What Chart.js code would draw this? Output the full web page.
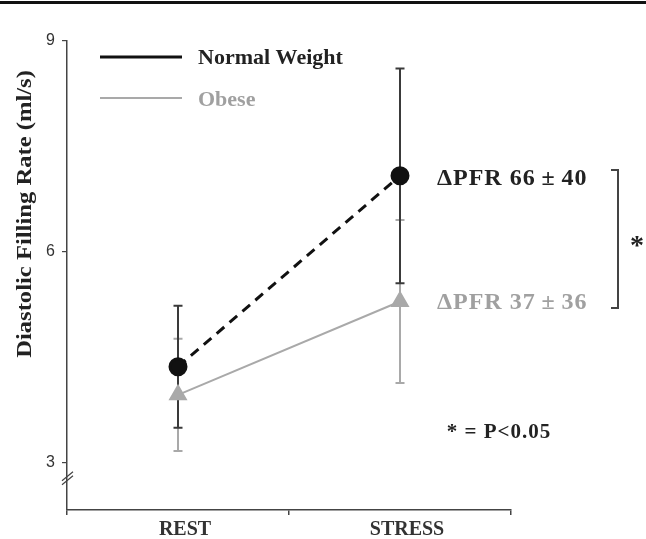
<html lang="en">
<head>
    <meta charset="UTF-8">
    <title>Diastolic Filling Rate</title>
    <style>
        html, body { margin: 0; padding: 0; background: #fff; }
        .chartBox { width: 646px; height: 539px; }
    </style>
</head>
<body>
    <div class="chartBox">
        <canvas id="myChart"></canvas>
    </div>

    <script src="https://cdn.jsdelivr.net/npm/chart.js@4"></script>
    <script>
        // values
        let categories = ['REST', 'STRESS'];
        let normalMean = [4.36, 7.08];
        let normalErr = [0.87, 1.53];
        let obeseMean = [3.96, 5.29];
        let obeseErr = [0.80, 1.16];
        let yTicks = [3, 6, 9];
        let seriesNames = ['Normal Weight', 'Obese'];
        let deltaText = ['\u0394PFR 66\u2009\u00B1\u200940', '\u0394PFR 37\u2009\u00B1\u200936'];

        const serif = '"Liberation Serif", "DejaVu Serif", serif';
        const sans = '"Liberation Sans", Arial, sans-serif';

        // error bars drawn through the scales
        const errorBars = {
            id: 'errorBars',
            beforeDatasetsDraw(chart) {
                const ctx = chart.ctx;
                const x = chart.scales.x, y = chart.scales.y;
                const sets = [
                    {mean: obeseMean, err: obeseErr, color: '#a9a9a9'},
                    {mean: normalMean, err: normalErr, color: '#3a3a3a'}
                ];
                ctx.save();
                sets.forEach(s => {
                    ctx.strokeStyle = s.color;
                    ctx.lineWidth = 2;
                    s.mean.forEach((m, i) => {
                        const px = x.getPixelForValue(i);
                        const top = y.getPixelForValue(m + s.err[i]);
                        const bot = y.getPixelForValue(m - s.err[i]);
                        ctx.beginPath();
                        ctx.moveTo(px, top); ctx.lineTo(px, bot);
                        ctx.moveTo(px - 4.5, top); ctx.lineTo(px + 4.5, top);
                        ctx.moveTo(px - 4.5, bot); ctx.lineTo(px + 4.5, bot);
                        ctx.stroke();
                    });
                });
                ctx.restore();
            }
        };

        // legend, annotations, axis break, y title
        const extras = {
            id: 'extras',
            afterDraw(chart) {
                const ctx = chart.ctx;
                const y = chart.scales.y;
                const x = chart.scales.x;
                ctx.save();
                // top rule
                ctx.fillStyle = '#111';
                ctx.fillRect(0, 1, 646, 3);

                // legend
                ctx.lineWidth = 3;
                ctx.strokeStyle = '#111';
                ctx.beginPath(); ctx.moveTo(100, 57); ctx.lineTo(182, 57); ctx.stroke();
                ctx.lineWidth = 2;
                ctx.strokeStyle = '#a9a9a9';
                ctx.beginPath(); ctx.moveTo(100, 98); ctx.lineTo(182, 98); ctx.stroke();
                ctx.textBaseline = 'middle';
                ctx.textAlign = 'left';
                ctx.font = 'bold 22px ' + serif;
                ctx.fillStyle = '#222';
                ctx.fillText(seriesNames[0], 198, 58);
                ctx.fillStyle = '#a0a0a0';
                ctx.fillText(seriesNames[1], 198, 100);

                // delta annotations
                ctx.font = 'bold 24px ' + serif;
                ctx.letterSpacing = '1px';
                ctx.fillStyle = '#222';
                ctx.fillText(deltaText[0], 437, 179);
                ctx.fillStyle = '#a0a0a0';
                ctx.fillText(deltaText[1], 437, 303);

                // bracket
                ctx.strokeStyle = '#444';
                ctx.lineWidth = 2;
                ctx.beginPath();
                ctx.moveTo(611, 170); ctx.lineTo(618, 170); ctx.lineTo(618, 308); ctx.lineTo(611, 308);
                ctx.stroke();
                ctx.fillStyle = '#222';
                ctx.letterSpacing = '0px';
                ctx.font = 'bold 28px ' + serif;
                ctx.textAlign = 'center';
                ctx.fillText('*', 637, 247);

                ctx.font = 'bold 21px ' + serif;
                ctx.letterSpacing = '1px';
                ctx.fillText('* = P<0.05', 499, 433);

                // axis break
                const by = y.getPixelForValue(2.75);
                const bx = x.left;
                ctx.strokeStyle = '#444';
                ctx.lineWidth = 1.2;
                ctx.beginPath();
                ctx.moveTo(bx - 5, by + 1); ctx.lineTo(bx + 6, by - 8);
                ctx.moveTo(bx - 5, by + 5); ctx.lineTo(bx + 6, by - 4);
                ctx.stroke();

                // y title
                ctx.translate(26, 214);
                ctx.rotate(-Math.PI / 2);
                ctx.scale(1.23, 1);
                ctx.font = 'bold 20px ' + serif;
                ctx.letterSpacing = '0px';
                ctx.fillStyle = '#222';
                ctx.textAlign = 'center';
                ctx.fillText('Diastolic Filling Rate (ml/s)', 0, 0);
                ctx.restore();
            }
        };

        function printChart() {
            const ctx = document.getElementById('myChart').getContext('2d');
            new Chart(ctx, {
                type: 'line',
                data: {
                    labels: categories,
                    datasets: [
                        {
                            label: seriesNames[0],
                            data: normalMean,
                            borderColor: '#111',
                            borderWidth: 3,
                            borderDash: [10, 7],
                            pointStyle: 'circle',
                            pointRadius: 8,
                            pointBackgroundColor: '#111',
                            pointBorderColor: '#111',
                            order: 1
                        },
                        {
                            label: seriesNames[1],
                            data: obeseMean,
                            borderColor: '#a9a9a9',
                            borderWidth: 2,
                            pointStyle: 'triangle',
                            pointRadius: 9,
                            pointBackgroundColor: '#a9a9a9',
                            pointBorderColor: '#a9a9a9',
                            order: 2
                        }
                    ]
                },
                options: {
                    responsive: true,
                    maintainAspectRatio: false,
                    animation: false,
                    layout: {padding: {left: 0, top: 41, right: 135, bottom: 0}},
                    plugins: {legend: {display: false}, tooltip: {enabled: false}},
                    scales: {
                        x: {
                            type: 'category',
                            offset: true,
                            grid: {display: true, offset: true, drawOnChartArea: false, tickLength: 5, color: '#444', lineWidth: 1.5},
                            border: {color: '#444', width: 1.5},
                            ticks: {color: '#333', font: {family: serif, size: 20, weight: 'bold'}, padding: 3, labelOffset: 7},
                            afterFit: s => { s.height = 29; }
                        },
                        y: {
                            min: 2.32,
                            max: 9,
                            afterBuildTicks: s => { s.ticks = yTicks.map(v => ({value: v})); },
                            grid: {drawOnChartArea: false, tickLength: 5, color: '#444', lineWidth: 1.2},
                            border: {color: '#444', width: 1.5},
                            ticks: {color: '#333', font: {family: sans, size: 16}, padding: 7},
                            afterFit: s => { s.width = 67; }
                        }
                    }
                },
                plugins: [errorBars, extras]
            });
        }
        printChart();
    </script>
</body>
</html>
